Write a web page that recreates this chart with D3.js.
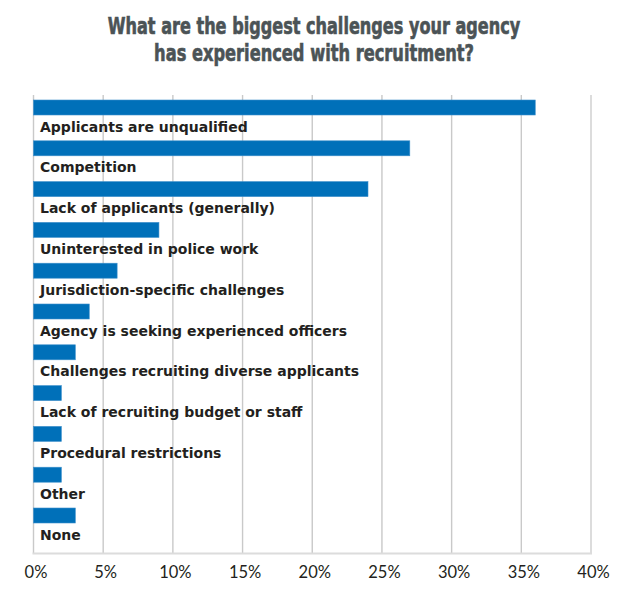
<!DOCTYPE html>
<html>
<head>
<meta charset="utf-8">
<script src="https://cdn.jsdelivr.net/npm/d3@7"></script>
<style>
  body { margin: 0; background: #fff; }
  svg { display: block; }
</style>
</head>
<body>
<svg id="chart" width="636" height="594"></svg>
<script>
"use strict";

// recruitment challenges, share of agencies (%)
const categories = [
  "Applicants are unqualified",
  "Competition",
  "Lack of applicants (generally)",
  "Uninterested in police work",
  "Jurisdiction-specific challenges",
  "Agency is seeking experienced officers",
  "Challenges recruiting diverse applicants",
  "Lack of recruiting budget or staff",
  "Procedural restrictions",
  "Other",
  "None"
];
const values = [36, 27, 24, 9, 6, 4, 3, 2, 2, 2, 3];
const ticks = [0, 5, 10, 15, 20, 25, 30, 35, 40];
const titleLines = [
  "What are the biggest challenges your agency",
  "has experienced with recruitment?"
];

const data = categories.map((c, i) => ({name: c, value: values[i]}));

const svg = d3.select("#chart");

// ---- scales
const x = d3.scaleLinear().domain([0, 40]).range([33.5, 591]);
const y = d3.scaleBand().domain(categories).range([100, 100 + 11 * 40.8]).padding(0);
const barH = 15, gridTop = 95, axisY = 553.5;

// ---- title: heavy face, squeezed horizontally to look condensed
const titleW = [413, 320];
titleLines.forEach((line, i) => {
  const tg = svg.append("g");
  const t = tg.append("text")
    .attr("x", 0).attr("y", 0)
    .attr("text-anchor", "middle")
    .style("font-family", "'DejaVu Sans',sans-serif")
    .style("font-weight", "700")
    .style("font-size", "23.5px")
    .style("fill", "#4b5356")
    .style("stroke", "#4b5356").style("stroke-width", 0.7)
    .text(line);
  const sx = titleW[i] / t.node().getComputedTextLength();
  tg.attr("transform", `translate(314,${34 + i * 27}) scale(${sx},1)`);
});

// ---- grid
svg.append("g").selectAll("line").data(ticks).enter().append("line")
  .attr("x1", d => x(d)).attr("x2", d => x(d))
  .attr("y1", gridTop).attr("y2", axisY)
  .attr("stroke", d => d === 40 ? "#dcdcdc" : "#c9c9c9")
  .attr("stroke-width", d => d === 40 ? 2 : 1.4);

svg.append("line")
  .attr("x1", x(0) - 1).attr("x2", x(40) + 1)
  .attr("y1", axisY).attr("y2", axisY)
  .attr("stroke", "#dcdcdc").attr("stroke-width", 2);

// ---- x axis labels
const xAxis = svg.append("g").attr("transform", `translate(0,${axisY})`)
  .call(d3.axisBottom(x).tickValues(ticks).tickFormat(d => `${d}%`).tickSize(0).tickPadding(0));
xAxis.select(".domain").remove();
xAxis.selectAll("text")
  .attr("dy", null).attr("y", 24.5).attr("dx", 2)
  .style("font-family", "Lato, sans-serif")
  .style("font-size", "16.5px")
  .style("fill", "#231f20");

// ---- bars
svg.append("g").selectAll("rect").data(data).enter().append("rect")
  .attr("x", x(0))
  .attr("y", d => y(d.name))
  .attr("width", d => x(d.value) - x(0))
  .attr("height", barH)
  .attr("fill", "#0070b9")
  .attr("stroke", "#3d8fcb").attr("stroke-width", 0.6);

// ---- category labels under each bar
svg.append("g").selectAll("text").data(data).enter().append("text")
  .attr("x", 40)
  .attr("y", d => y(d.name) + 31.5)
  .style("font-family", "'DejaVu Sans', sans-serif")
  .style("font-weight", "700")
  .style("font-size", "14px")
  .style("fill", "#231f20")
  .text(d => d.name);
</script>
</body>
</html>
